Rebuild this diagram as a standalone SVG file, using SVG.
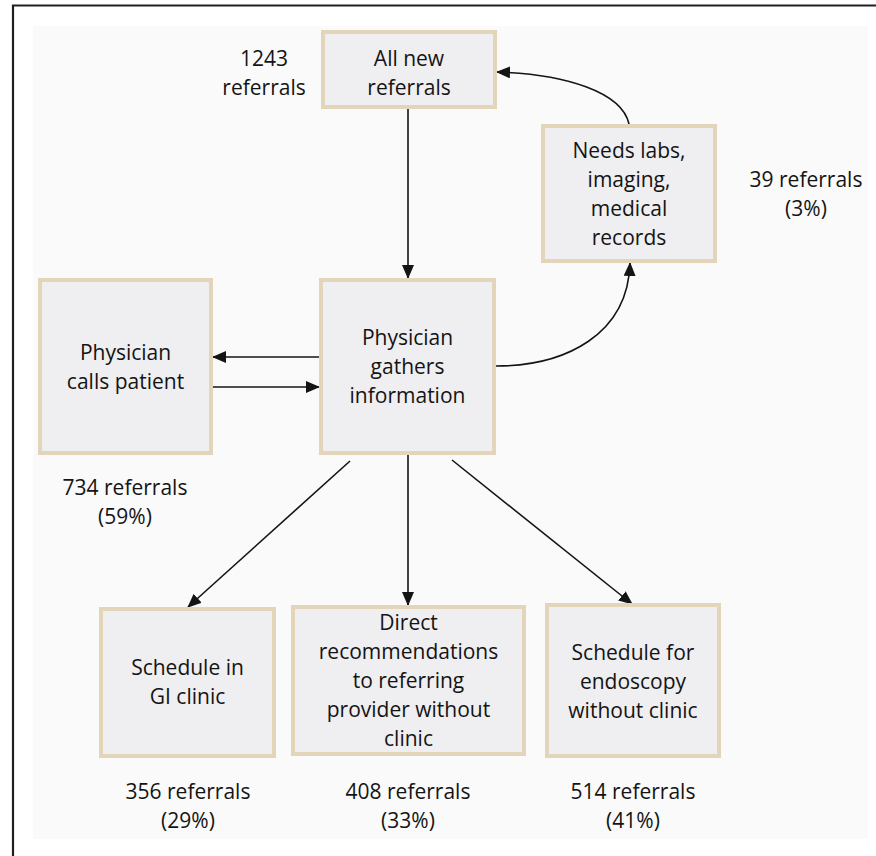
<svg xmlns="http://www.w3.org/2000/svg" width="876" height="856" viewBox="0 0 876 856">
<defs>
<style>
.box{fill:#efeef0;stroke:#e2d5ba;stroke-width:4}
.t{font-family:"Open Sans","Noto Sans","DejaVu Sans",sans-serif;font-size:21px;fill:#141414;text-anchor:middle}
.c{fill:none;stroke:#141414;stroke-width:1.6}
</style>
<marker id="ah" markerUnits="userSpaceOnUse" markerWidth="14" markerHeight="12" refX="13" refY="6" orient="auto" viewBox="0 0 14 12">
<path d="M0,0 L14,6 L0,12 z" fill="#141414"/>
</marker>
</defs>
<rect width="876" height="856" fill="#ffffff"/>
<path d="M13,856 L13,5.5 L876,5.5" fill="none" stroke="#231f20" stroke-width="2.2"/>
<rect x="33" y="26" width="835" height="813" fill="#fafafa"/>

<g id="connectors">
<path class="c" d="M408,109 L408,278" marker-end="url(#ah)"/>
<path class="c" d="M629,124 C622,92 565,74 497,72" marker-end="url(#ah)"/>
<path class="c" d="M496,366 C565,366 628,335 630,263" marker-end="url(#ah)"/>
<path class="c" d="M319,357 L213,357" marker-end="url(#ah)"/>
<path class="c" d="M213,387 L319,387" marker-end="url(#ah)"/>
<path class="c" d="M350,461 L188,607" marker-end="url(#ah)"/>
<path class="c" d="M408,455 L408,605" marker-end="url(#ah)"/>
<path class="c" d="M452,460 L632,604" marker-end="url(#ah)"/>
</g>

<g id="all-new">
<rect class="box" x="323" y="32" width="172" height="75"/>
<text class="t" x="409" y="66">All new</text>
<text class="t" x="409" y="95">referrals</text>
</g>
<g id="label-1243">
<text class="t" x="264" y="66">1243</text>
<text class="t" x="264" y="95">referrals</text>
</g>

<g id="needs-labs">
<rect class="box" x="543" y="126" width="172" height="135"/>
<text class="t" x="629" y="158">Needs labs,</text>
<text class="t" x="629" y="187">imaging,</text>
<text class="t" x="629" y="216">medical</text>
<text class="t" x="629" y="245">records</text>
</g>
<g id="label-39">
<text class="t" x="806" y="187">39 referrals</text>
<text class="t" x="806" y="216">(3%)</text>
</g>

<g id="calls-patient">
<rect class="box" x="40" y="280" width="171" height="173"/>
<text class="t" x="125.5" y="360">Physician</text>
<text class="t" x="125.5" y="389">calls patient</text>
</g>
<g id="label-734">
<text class="t" x="125" y="495">734 referrals</text>
<text class="t" x="125" y="524">(59%)</text>
</g>

<g id="gathers">
<rect class="box" x="321" y="280" width="173" height="173"/>
<text class="t" x="407.5" y="345">Physician</text>
<text class="t" x="407.5" y="374">gathers</text>
<text class="t" x="407.5" y="403">information</text>
</g>

<g id="gi-clinic">
<rect class="box" x="101" y="609" width="173" height="147"/>
<text class="t" x="187.5" y="675">Schedule in</text>
<text class="t" x="187.5" y="704">GI clinic</text>
</g>
<g id="label-356">
<text class="t" x="188" y="799">356 referrals</text>
<text class="t" x="188" y="828">(29%)</text>
</g>

<g id="direct">
<rect class="box" x="293" y="607" width="231" height="147"/>
<text class="t" x="408.5" y="630">Direct</text>
<text class="t" x="408.5" y="659">recommendations</text>
<text class="t" x="408.5" y="688">to referring</text>
<text class="t" x="408.5" y="717">provider without</text>
<text class="t" x="408.5" y="746">clinic</text>
</g>
<g id="label-408">
<text class="t" x="408" y="799">408 referrals</text>
<text class="t" x="408" y="828">(33%)</text>
</g>

<g id="endoscopy">
<rect class="box" x="547" y="605" width="172" height="151"/>
<text class="t" x="633" y="660">Schedule for</text>
<text class="t" x="633" y="689">endoscopy</text>
<text class="t" x="633" y="718">without clinic</text>
</g>
<g id="label-514">
<text class="t" x="633" y="799">514 referrals</text>
<text class="t" x="633" y="828">(41%)</text>
</g>
</svg>
